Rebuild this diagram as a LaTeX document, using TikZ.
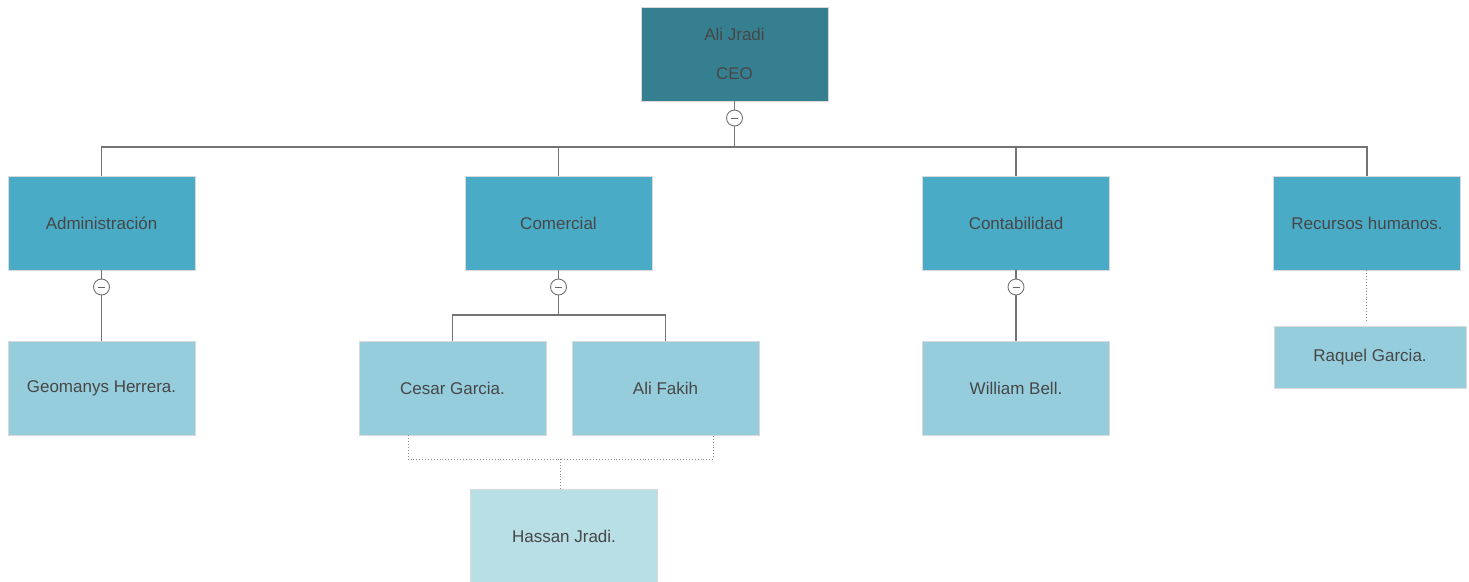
\documentclass[tikz,border=0pt]{standalone}
\usepackage{fontspec}
\setmainfont{Liberation Sans}
\begin{document}
\begin{tikzpicture}[x=1pt,y=-1pt,
  box/.style={draw=black!15,line width=0.8pt,minimum width=187pt,minimum height=94pt,inner sep=0pt,text=black!72,font=\fontsize{17}{20}\selectfont,align=center},
  ceo/.style={box,fill=ceoc},
  dept/.style={box,fill=deptc},
  staff/.style={box,fill=staffc},
  sub/.style={box,fill=subc},
  conn/.style={draw=black!55,line width=1.1pt},
  dotconn/.style={draw=black!45,line width=0.9pt,dotted},
  toggle/.style={circle,draw=black!55,fill=white,line width=0.9pt,minimum size=16pt,inner sep=0pt}
]
\definecolor{ceoc}{HTML}{367F91}
\definecolor{deptc}{HTML}{4AABC7}
\definecolor{staffc}{HTML}{96CDDC}
\definecolor{subc}{HTML}{B8DEE6}
\useasboundingbox (0,0) rectangle (1469,581);

\node[ceo] (ceo) at (734.5,54) {Ali Jradi\\[19pt]CEO};
\node[dept] (adm) at (101.5,223) {Administración};
\node[dept] (com) at (558.5,223) {Comercial};
\node[dept] (cont) at (1016,223) {Contabilidad};
\node[dept] (rh) at (1367,223) {Recursos humanos.};
\node[staff] (geo) at (101.5,388) {Geomanys Herrera.};
\node[staff] (ces) at (452.5,388) {Cesar Garcia.};
\node[staff] (fak) at (665.5,388) {Ali Fakih};
\node[staff] (wil) at (1016,388) {William Bell.};
\node[staff,minimum width=192pt,minimum height=62pt] (raq) at (1370,357) {Raquel Garcia.};
\node[sub] (has) at (564,536) {Hassan Jradi.};

\coordinate (bus) at (734.5,147);
\draw[conn] (ceo.south) -- (bus);
\draw[conn] (adm.north) |- (bus) -| (rh.north);
\draw[conn] (com.north) -- (com.north |- bus);
\draw[conn] (cont.north) -- (cont.north |- bus);
\node[toggle] (t0) at (734.5,118) {};

\draw[conn] (adm.south) -- (geo.north);
\node[toggle] (t1) at (101.5,287) {};

\coordinate (cb) at (558.5,315);
\draw[conn] (com.south) -- (cb);
\draw[conn] (ces.north) |- (cb) -| (fak.north);
\node[toggle] (t2) at (558.5,287) {};

\draw[conn] (cont.south) -- (wil.north);
\node[toggle] (t3) at (1016,287) {};

\draw[dotconn] (rh.south -| 1366,0) -- (1366,322);

\coordinate (hb) at (560,459);
\draw[dotconn] (ces.south -| 408,0) |- (hb) -| (fak.south -| 713,0);
\draw[dotconn] (hb) -- (has.north -| 560,0);

\foreach \t in {t0,t1,t2,t3}
  \draw[black!60,line width=1pt] ([xshift=-3.5pt]\t.center) -- ([xshift=3.5pt]\t.center);
\end{tikzpicture}
\end{document}
